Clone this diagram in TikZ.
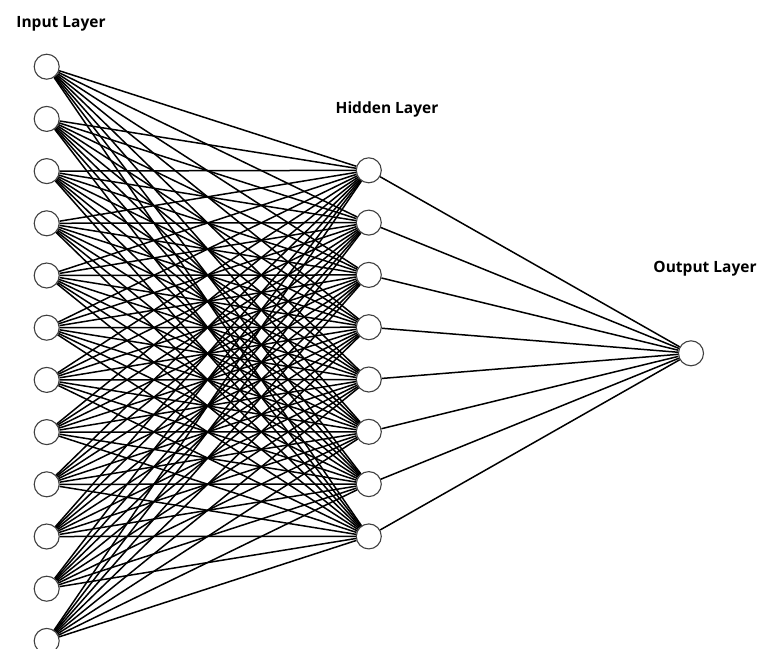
\documentclass[tikz,border=0pt]{standalone}
\usepackage{fontspec}
\setmainfont{Open Sans}
\begin{document}
\begin{tikzpicture}[x=1pt,y=-1pt,
  neuron/.style={circle,draw=black!75,line width=1.1pt,fill=white,minimum size=25pt,inner sep=0pt},
  conn/.style={line width=1.5pt,black},
  lbl/.style={font=\bfseries\fontsize{15.5}{17}\selectfont,inner sep=0pt}]
\useasboundingbox (0,0) rectangle (760,648);
\foreach \i in {1,...,12} \node[neuron] (i\i) at (46.7,{66.7+(\i-1)*52.2}) {};
\foreach \j in {1,...,8} \node[neuron] (h\j) at (368.8,{170.3+(\j-1)*52.3}) {};
\node[neuron] (o) at (691,353.3) {};
\foreach \i in {1,...,12} \foreach \j in {1,...,8} \draw[conn] (i\i) -- (h\j);
\foreach \j in {1,...,8} \draw[conn] (h\j) -- (o);
\node[lbl] (ti) at (61,24) {Input Layer};
\node[lbl] (th) at (387,109) {Hidden Layer};
\node[lbl] (to) at (705,269) {Output Layer};
\end{tikzpicture}
\end{document}
